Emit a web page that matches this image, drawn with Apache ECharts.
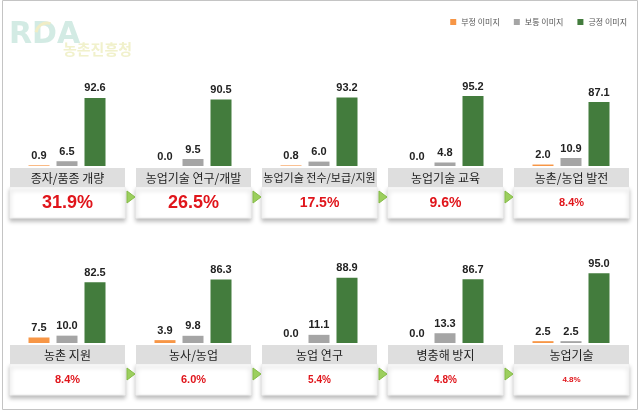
<!DOCTYPE html>
<html>
<head>
<meta charset="utf-8">
<script src="https://cdn.jsdelivr.net/npm/echarts@6/dist/echarts.min.js"></script>
<style>
html, body { margin: 0; padding: 0; background: #fff; }
#chart { width: 641px; height: 416px; }
</style>
</head>
<body>
<div id="chart"></div>
<script>
// 항목별 데이터
const categories = ['종자/품종 개량', '농업기술 연구/개발', '농업기술 전수/보급/지원', '농업기술 교육', '농촌/농업 발전',
    '농촌 지원', '농사/농업', '농업 연구', '병충해 방지', '농업기술'];
const negative = [0.9, 0.0, 0.8, 0.0, 2.0, 7.5, 3.9, 0.0, 0.0, 2.5];
const neutral = [6.5, 9.5, 6.0, 4.8, 10.9, 10.0, 9.8, 11.1, 13.3, 2.5];
const positive = [92.6, 90.5, 93.2, 95.2, 87.1, 82.5, 86.3, 88.9, 86.7, 95.0];
const shares = [31.9, 26.5, 17.5, 9.6, 8.4, 8.4, 6.0, 5.4, 4.8, 4.8];
const seriesNames = ['부정 이미지', '보통 이미지', '긍정 이미지'];

// 스타일
const colors = ['#f79646', '#a5a5a5', '#437c3d'];
const shareFontSize = [18, 18, 14, 14, 11, 11, 11, 10, 10, 8];
const labelFontSize = [12, 12, 11, 12, 12, 12, 12, 12, 12, 12];
const KR = '"Noto Sans CJK KR", sans-serif';
const NUM = '"Liberation Sans", Arial, sans-serif';

const panelLeft = [10, 136, 262, 388, 514];
const panelW = 115;
const rowBase = [166, 343];   // 막대 바닥 y
const plotH = 73.5;           // 0~100

const chart = echarts.init(document.getElementById('chart'));

const grids = [], xAxes = [], yAxes = [], series = [], graphics = [];

// 바깥 테두리
graphics.push({
    type: 'rect', z: 0,
    shape: { x: 2.5, y: 0.5, width: 635, height: 409 },
    style: { fill: '#fff', stroke: '#c4c4c4', lineWidth: 1 }
});

// 로고 (워터마크)
graphics.push({
    type: 'text', left: 9, top: 20, z: 1,
    style: { text: 'RDA', fill: '#d3ebe4', font: 'bold 30px "DejaVu Sans", sans-serif' }
});
graphics.push({
    type: 'arc', z: 2,
    shape: { cx: 47, cy: 34, r: 11, startAngle: Math.PI * 1.05, endAngle: Math.PI * 1.6 },
    style: { stroke: '#f0edc6', lineWidth: 3, fill: null }
});
graphics.push({
    type: 'text', left: 63, top: 42, z: 1,
    style: { text: '농촌진흥청', fill: '#f1f1cc', font: 'bold 15px ' + KR }
});

categories.forEach((cat, i) => {
    const row = Math.floor(i / 5), col = i % 5;
    const L = panelLeft[col];
    const base = rowBase[row];

    grids.push({ left: L + 15, top: base - plotH, width: 84, height: plotH });
    xAxes.push({ gridIndex: i, type: 'category', data: seriesNames, show: false });
    yAxes.push({ gridIndex: i, type: 'value', min: 0, max: 100, show: false });

    [negative, neutral, positive].forEach((arr, k) => {
        const data = [null, null, null];
        data[k] = arr[i];
        series.push({
            name: seriesNames[k],
            type: 'bar',
            xAxisIndex: i, yAxisIndex: i,
            data: data,
            barWidth: 21,
            barGap: '-100%',
            itemStyle: { color: colors[k] },
            label: {
                show: true, position: 'top', distance: 4,
                color: '#222', fontSize: 11, fontWeight: 'bold', fontFamily: NUM,
                formatter: p => (p.value == null ? '' : Number(p.value).toFixed(1))
            },
            silent: true
        });
    });

    // 항목명 박스
    const boxTop = base + 2;
    graphics.push({
        type: 'rect', z: 5,
        shape: { x: L, y: boxTop, width: panelW, height: 19 },
        style: { fill: '#dedede' }
    });
    graphics.push({
        type: 'text', z: 6, x: L + panelW / 2, y: boxTop + 10,
        style: { text: cat, fill: '#222', font: labelFontSize[i] + 'px ' + KR, align: 'center', verticalAlign: 'middle' }
    });

    // 비율 박스
    const wTop = boxTop + 19;
    graphics.push({
        type: 'rect', z: 4,
        shape: { x: L, y: wTop, width: panelW, height: 31 },
        style: { fill: '#fff', stroke: '#efefef', lineWidth: 1, shadowBlur: 4, shadowOffsetY: 3, shadowColor: 'rgba(0,0,0,0.25)' }
    });
    graphics.push({
        type: 'text', z: 6, x: L + panelW / 2, y: wTop + 16,
        style: {
            text: shares[i].toFixed(1) + '%', fill: '#e0151b',
            font: 'bold ' + shareFontSize[i] + 'px ' + NUM, align: 'center', verticalAlign: 'middle'
        }
    });

    // 화살표
    if (col < 4) {
        const tx = L + panelW + 2, ty = wTop + 10;
        graphics.push({
            type: 'polygon', z: 6,
            shape: { points: [[tx, ty - 6], [tx + 8, ty], [tx, ty + 6]] },
            style: { fill: '#9ccf5e', stroke: '#84bb46', lineWidth: 1 }
        });
    }
});

const option = {
    animation: false,
    legend: {
        data: seriesNames,
        right: 9, top: 13,
        icon: 'rect', itemWidth: 6, itemHeight: 6, itemGap: 14,
        textStyle: { fontSize: 8, color: '#555', fontFamily: KR },
        selectedMode: false
    },
    grid: grids,
    xAxis: xAxes,
    yAxis: yAxes,
    series: series,
    graphic: graphics
};
chart.setOption(option);
</script>
</body>
</html>
